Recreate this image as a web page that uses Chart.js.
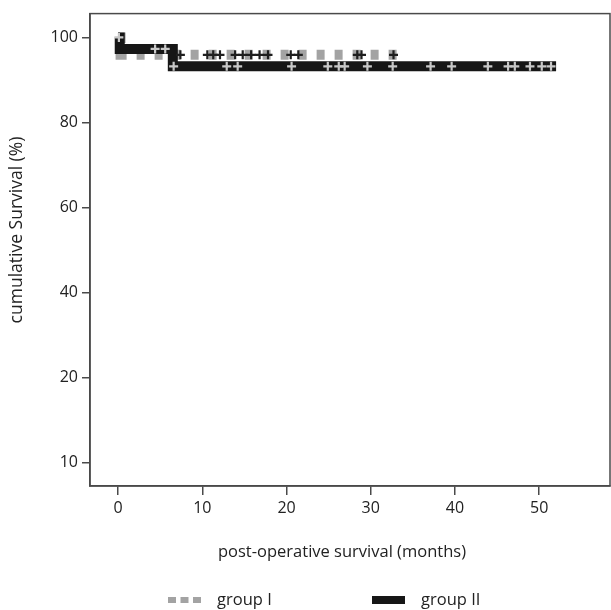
<!DOCTYPE html>
<html>
<head>
<meta charset="utf-8">
<script src="https://cdn.jsdelivr.net/npm/chart.js@4"></script>
<style>
  html, body { margin: 0; padding: 0; background: #fff; }
  #wrap { width: 611px; height: 610px; position: relative; }
</style>
</head>
<body>
<div id="wrap"><canvas id="c" width="611" height="610"></canvas></div>
<script>
// ---- data ----
const groupINames = "group I";
const groupIINames = "group II";
// Kaplan-Meier step points (time in months, survival %)
const groupITimes = [0, 0.3, 33.2];
const groupISurv = [100, 95.9, 95.9];
const groupIITimes = [0, 0.2, 6.5, 52.0];
const groupIISurv = [100, 97.3, 93.2, 93.2];
// censored observations (time, survival)
const groupICensorTimes = [7.4, 10.6, 11.3, 12.1, 13.9, 14.8, 15.8, 16.8, 17.8, 20.5, 21.4, 28.4, 28.9, 32.7];
const groupICensorSurv = [95.9, 95.9, 95.9, 95.9, 95.9, 95.9, 95.9, 95.9, 95.9, 95.9, 95.9, 95.9, 95.9, 95.9];
const groupIICensorTimes = [0.1, 4.4, 5.6, 6.6, 12.9, 14.2, 20.6, 24.9, 26.2, 26.9, 29.6, 32.6, 37.1, 39.6, 43.9, 46.3, 47.1, 48.9, 50.3, 51.4];
const groupIICensorSurv = [100, 97.3, 97.3, 93.2, 93.2, 93.2, 93.2, 93.2, 93.2, 93.2, 93.2, 93.2, 93.2, 93.2, 93.2, 93.2, 93.2, 93.2, 93.2, 93.2];
// axis ticks
const xTickValues = [0, 10, 20, 30, 40, 50];
const yTickValues = [0, 20, 40, 60, 80, 100];
const yTickLabels = ["10", "20", "40", "60", "80", "100"];
const xTitle = "post-operative survival (months)";
const yTitle = "cumulative Survival (%)";

const pts = (xs, ys) => xs.map((x, i) => ({ x: x, y: ys[i] }));

const FONT = "'Open Sans', sans-serif";
const TXT = '#222';
const AX = '#4a4a4a';
const GRAY = '#a3a3a3';
const BLACK = '#161616';

const framePlugin = {
  id: 'frame',
  afterDraw(chart) {
    const { ctx, chartArea: a } = chart;
    ctx.save();
    ctx.strokeStyle = AX;
    ctx.lineWidth = 1.5;
    ctx.strokeRect(a.left, a.top, a.right - a.left, a.bottom - a.top);
    // axis titles
    ctx.fillStyle = TXT;
    ctx.font = "16.5px " + FONT;
    ctx.textAlign = 'center';
    ctx.textBaseline = 'middle';
    ctx.fillText(xTitle, 342, a.bottom + 66);
    ctx.save();
    ctx.font = "17.5px " + FONT;
    ctx.translate(17, 230);
    ctx.rotate(-Math.PI / 2);
    ctx.fillText(yTitle, 0, 0);
    ctx.restore();
    // legend
    const ly = a.bottom + 114;
    ctx.fillStyle = GRAY;
    for (let i = 0; i < 3; i++) ctx.fillRect(168 + i * 12.5, ly - 3, 8, 6);
    ctx.fillStyle = BLACK;
    ctx.fillRect(372, ly - 4, 33, 8);
    ctx.fillStyle = TXT;
    ctx.textAlign = 'left';
    ctx.fillText(groupINames, 217, ly);
    ctx.fillText(groupIINames, 421, ly);
    ctx.restore();
  }
};

new Chart(document.getElementById('c'), {
  type: 'line',
  data: {
    datasets: [
      {
        label: groupINames, data: pts(groupITimes, groupISurv), stepped: true,
        borderColor: GRAY, borderWidth: 10, borderDash: [8, 10], borderCapStyle: 'butt',
        pointRadius: 0, fill: false, order: 4
      },
      {
        label: groupIINames, data: pts(groupIITimes, groupIISurv), stepped: true,
        borderColor: BLACK, borderWidth: 10, borderCapStyle: 'butt', borderJoinStyle: 'miter',
        pointRadius: 0, fill: false, order: 3
      },
      {
        label: groupINames + ' censored', data: pts(groupICensorTimes, groupICensorSurv), showLine: false,
        pointStyle: 'cross', pointRadius: 4.5, pointBorderWidth: 2.2, pointBorderColor: '#1e1e1e',
        pointBackgroundColor: '#1e1e1e', order: 2
      },
      {
        label: groupIINames + ' censored', data: pts(groupIICensorTimes, groupIICensorSurv), showLine: false,
        pointStyle: 'cross', pointRadius: 4.5, pointBorderWidth: 2.2, pointBorderColor: '#c8c8c8',
        pointBackgroundColor: '#c8c8c8', order: 1
      }
    ]
  },
  options: {
    responsive: false,
    animation: false,
    events: [],
    layout: { autoPadding: false, padding: { top: 12, right: 1, left: 0, bottom: 0 } },
    plugins: { legend: { display: false }, tooltip: { enabled: false }, title: { display: false } },
    scales: {
      x: {
        type: 'linear', min: -3.33, max: 58.4,
        afterBuildTicks: (s) => { s.ticks = xTickValues.map(v => ({ value: v })); },
        afterFit: (s) => { s.height = 124; },
        grid: { drawOnChartArea: false, drawTicks: true, tickLength: 9, color: AX, lineWidth: 1.5 },
        border: { display: true, color: AX, width: 1.5 },
        ticks: { color: TXT, font: { family: FONT, size: 16 }, padding: 4, maxRotation: 0 }
      },
      y: {
        type: 'linear', min: -5.5, max: 105.6,
        afterBuildTicks: (s) => { s.ticks = yTickValues.map(v => ({ value: v })); },
        afterFit: (s) => { s.width = 90; },
        grid: { drawOnChartArea: false, drawTicks: true, tickLength: 8, color: AX, lineWidth: 1.5 },
        border: { display: true, color: AX, width: 1.5 },
        ticks: {
          color: TXT, font: { family: FONT, size: 16 }, padding: 4,
          callback: (v) => { const i = yTickValues.indexOf(v); return i >= 0 ? yTickLabels[i] : ''; }
        }
      }
    }
  },
  plugins: [framePlugin]
});
</script>
</body>
</html>
